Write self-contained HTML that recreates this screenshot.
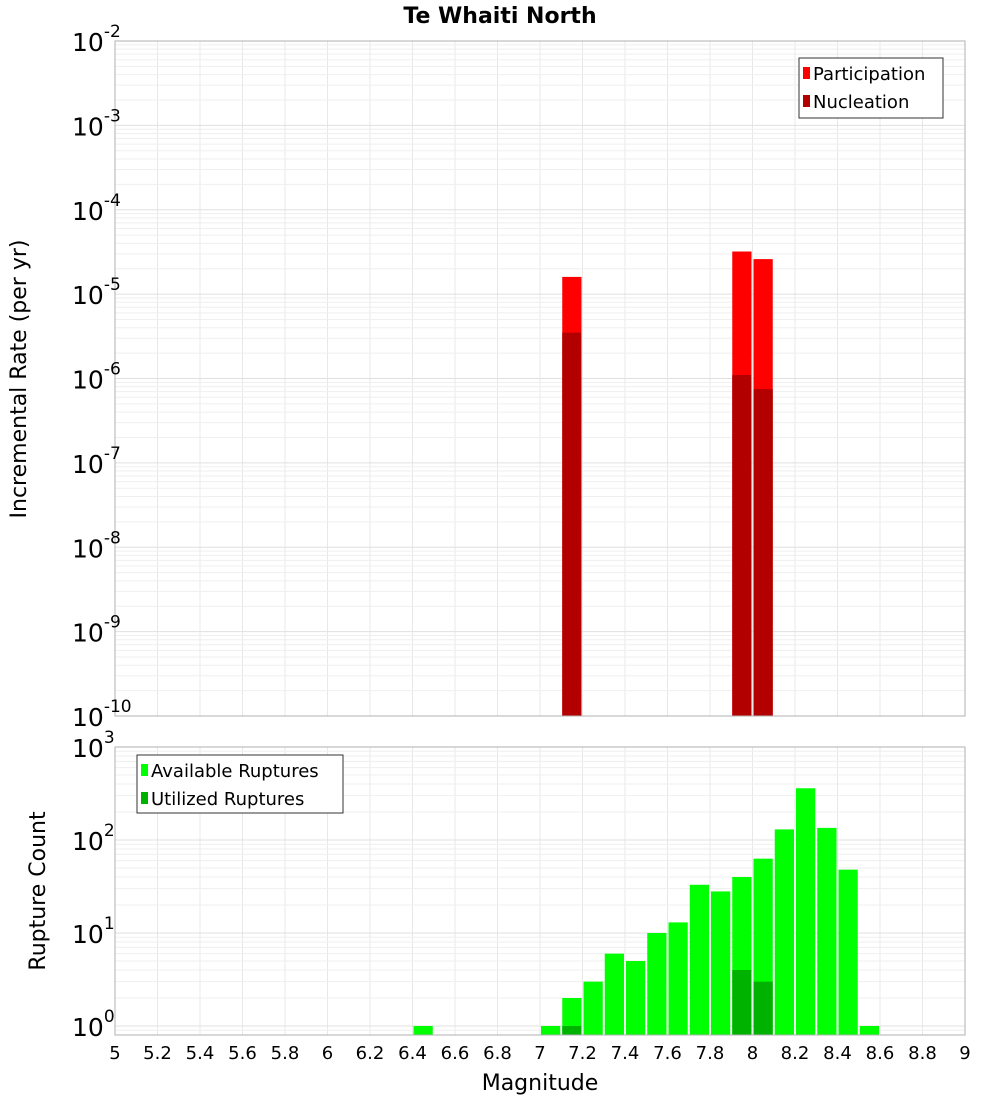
<!DOCTYPE html>
<html><head><meta charset="utf-8"><style>
body{margin:0;background:#fff;}
svg text{font-family:"DejaVu Sans","Liberation Sans",sans-serif;}
</style></head><body>
<svg id="c" width="1000" height="1100" xmlns="http://www.w3.org/2000/svg"></svg>
<script>
const partMags=[7.15,7.95,8.05];
const partVals=[1.6e-5,3.2e-5,2.6e-5];
const nuclMags=[7.15,7.95,8.05];
const nuclVals=[3.5e-6,1.1e-6,7.5e-7];
const availMags=[6.45,7.05,7.15,7.25,7.35,7.45,7.55,7.65,7.75,7.85,7.95,8.05,8.15,8.25,8.35,8.45,8.55];
const availVals=[1,1,2,3,6,5,10,13,33,28,40,63,130,360,135,48,1];
const utilMags=[7.15,7.95,8.05];
const utilVals=[1,4,3];
const xTicks=[5,5.2,5.4,5.6,5.8,6,6.2,6.4,6.6,6.8,7,7.2,7.4,7.6,7.8,8,8.2,8.4,8.6,8.8,9];
const topExps=[-10,-9,-8,-7,-6,-5,-4,-3,-2];
const botExps=[0,1,2,3];

const svg=document.getElementById('c');
const NS='http://www.w3.org/2000/svg';
function mk(tag,attrs,parent){const e=document.createElementNS(NS,tag);for(const k in attrs)e.setAttribute(k,attrs[k]);(parent||svg).appendChild(e);return e;}
const X0=115,X1=965;
const x=m=>X0+(m-5)/4*(X1-X0);
const T0=41,T1=716;
const yTop=v=>T1-(Math.log10(v)+10)/8*(T1-T0);
const B0=747,B1=1035,BDEC=93;
const yBot=v=>(B0+3*BDEC)-Math.log10(v)*BDEC;

function grid(y0,y1,yf,exps){
  for(const t of xTicks){const l=mk('line',{x1:x(t),x2:x(t),y1:y0,y2:y1,stroke:'#e8e8e8'});
    }
  for(let i=0;i<exps.length+1;i++){const e=exps[0]-1+i;
    for(let k=1;k<10;k++){const v=k*Math.pow(10,e);const yy=yf(v);
      if(yy<y0-0.5||yy>y1+0.5)continue;
      const l=mk('line',{x1:X0,x2:X1,y1:yy,y2:yy,stroke:k==1?'#e0e0e0':'#efefef'});
      }}
}
grid(T0,T1,yTop,topExps);
grid(B0,B1,yBot,botExps);

function bars(mags,vals,yf,base,color,name){
  mags.forEach((m,i)=>{const xl=x(m-0.05)+1,xr=x(m+0.05)-1;const yy=yf(vals[i]);
    const r=mk('rect',{x:xl,y:yy,width:xr-xl,height:base-yy,fill:color});
    });
}
bars(partMags,partVals,yTop,T1,'#ff0000','participation-bar');
bars(nuclMags,nuclVals,yTop,T1,'#b20000','nucleation-bar');
bars(availMags,availVals,yBot,B1,'#00ff00','available-bar');
bars(utilMags,utilVals,yBot,B1,'#00b200','utilized-bar');

let f=mk('rect',{x:X0,y:T0,width:X1-X0,height:T1-T0,fill:'none',stroke:'#b0b0b0'});

f=mk('rect',{x:X0,y:B0,width:X1-X0,height:B1-B0,fill:'none',stroke:'#b0b0b0'});


function ylabels(exps,yf){
  exps.forEach(e=>{const yy=yf(Math.pow(10,e));
    const t=mk('text',{x:72,y:yy+10,'font-size':25,fill:'#000'});
    
    t.textContent='10';
    const s=mk('tspan',{dy:-14,'font-size':17},t);s.textContent=String(e);});
}
ylabels(topExps,yTop);
ylabels(botExps,yBot);

xTicks.forEach(v=>{const t=mk('text',{x:x(v),y:1059,'text-anchor':'middle','font-size':18,fill:'#000'});
  
  t.textContent=String(v);});

let t=mk('text',{x:540,y:1090,'text-anchor':'middle','font-size':22});t.textContent='Magnitude';

t=mk('text',{x:500,y:23,'text-anchor':'middle','font-size':22,'font-weight':'bold'});t.textContent='Te Whaiti North';

t=mk('text',{x:0,y:0,'text-anchor':'middle','font-size':22,transform:'translate(26,379) rotate(-90)'});t.textContent='Incremental Rate (per yr)';

t=mk('text',{x:0,y:0,'text-anchor':'middle','font-size':22,transform:'translate(45,891) rotate(-90)'});t.textContent='Rupture Count';


function legend(x0,y0,w,h,items,name){
  const g=mk('g',{});
  mk('rect',{x:x0,y:y0,width:w,height:h,fill:'#fff',stroke:'#333'},g);
  items.forEach((it,i)=>{const cy=y0+15+i*28;
    const r=mk('rect',{x:x0+4,y:cy-6,width:7,height:12,fill:it[1]},g);
    
    const tt=mk('text',{x:x0+14,y:cy+7,'font-size':18},g);tt.textContent=it[0];
    });
}
legend(799,58,144,60,[['Participation','#ff0000'],['Nucleation','#b20000']],'top-legend');
legend(137,755,206,58,[['Available Ruptures','#00ff00'],['Utilized Ruptures','#00b200']],'bottom-legend');
</script>
</body></html>
